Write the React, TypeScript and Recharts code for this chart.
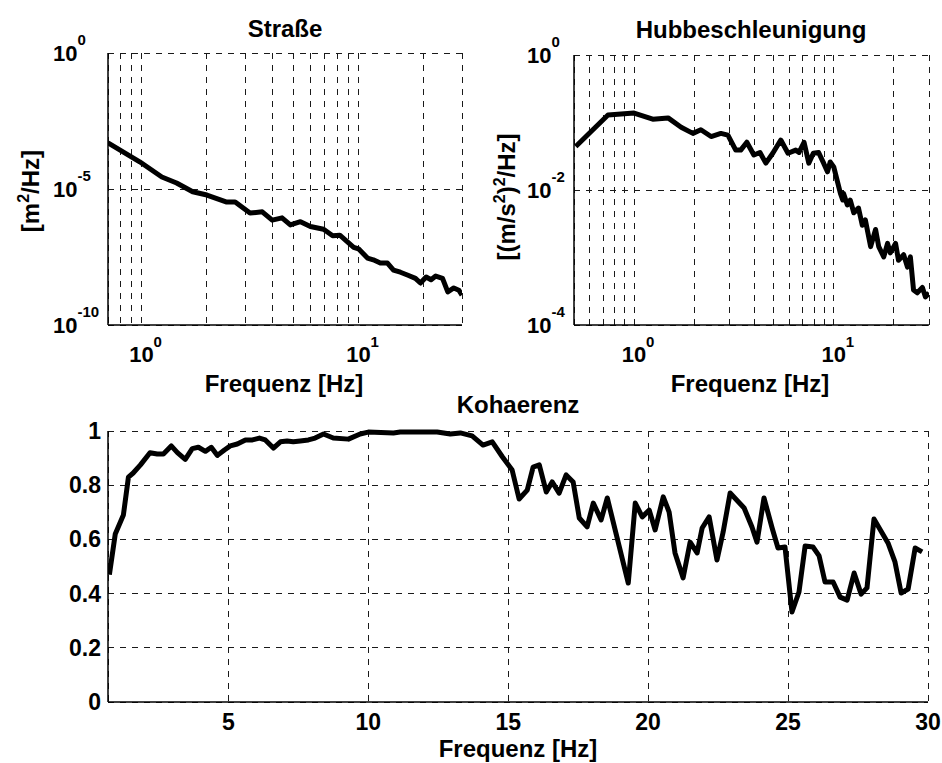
import React from 'react'
import { LineChart, Line, XAxis, YAxis, CartesianGrid } from 'recharts'

// Straße – road PSD [m^2/Hz]
const roadFreq = [0.7, 0.98, 1.24, 1.45, 1.72, 2.0, 2.47, 2.7, 3.16, 3.6, 4.0, 4.44, 4.85, 5.4, 6.0, 6.9, 7.6, 8.2, 9.5, 10, 11, 11.7, 12.6, 13.6, 14.5, 15.6, 16.8, 18.3, 19.3, 20.5, 21.6, 22.7, 24.4, 25.8, 27.5, 29, 30]
const roadPsd = [5.0e-4, 1.0e-4, 2.75e-5, 1.66e-5, 7.9e-6, 6.0e-6, 3.3e-6, 3.3e-6, 1.3e-6, 1.45e-6, 7.2e-7, 8.7e-7, 4.8e-7, 6.3e-7, 4.2e-7, 3.3e-7, 1.9e-7, 2.0e-7, 7.2e-8, 6.3e-8, 2.9e-8, 2.5e-8, 1.9e-8, 1.9e-8, 1.05e-8, 8.7e-9, 6.9e-9, 5.2e-9, 3.5e-9, 5.8e-9, 4.6e-9, 6.3e-9, 5.2e-9, 1.66e-9, 2.3e-9, 1.9e-9, 1.26e-9]

// Hubbeschleunigung – heave acceleration PSD [(m/s^2)^2/Hz]
const heaveFreq = [0.51, 0.74, 1.0, 1.24, 1.48, 1.72, 1.97, 2.16, 2.43, 2.72, 2.95, 3.23, 3.42, 3.67, 3.98, 4.27, 4.57, 4.95, 5.43, 5.9, 6.45, 6.7, 7.1, 7.5, 7.9, 8.4, 8.9, 9.3, 9.6, 10, 10.8, 11.1, 11.2, 11.7, 12.1, 12.6, 13.3, 13.9, 14.4, 15.3, 16.2, 16.8, 17.8, 18.6, 19.2, 20.4, 21.1, 22.4, 23.4, 24.2, 25.1, 26.2, 27.8, 28.8, 30]
const heavePsd = [0.044, 0.129, 0.138, 0.112, 0.117, 0.085, 0.069, 0.078, 0.062, 0.069, 0.065, 0.039, 0.039, 0.051, 0.033, 0.036, 0.025, 0.035, 0.055, 0.035, 0.039, 0.036, 0.051, 0.025, 0.035, 0.036, 0.025, 0.0186, 0.026, 0.022, 0.0089, 0.0071, 0.0089, 0.006, 0.0071, 0.0046, 0.0054, 0.003, 0.0036, 0.00145, 0.0026, 0.00145, 0.00102, 0.00162, 0.00117, 0.00162, 0.00091, 0.0011, 0.00072, 0.00102, 0.00033, 0.0003, 0.00036, 0.00026, 0.0003]

// Kohaerenz
const cohFreq = [0.75, 0.96, 1.25, 1.43, 1.6, 1.86, 2.2, 2.46, 2.68, 2.96, 3.18, 3.46, 3.71, 3.93, 4.18, 4.39, 4.61, 4.86, 5.07, 5.32, 5.61, 5.86, 6.11, 6.32, 6.61, 6.86, 7.1, 7.32, 7.57, 7.86, 8.1, 8.4, 8.75, 9.29, 9.71, 10, 10.9, 11.14, 12.46, 12.93, 13.29, 13.71, 14.1, 14.43, 14.79, 15.14, 15.39, 15.68, 15.89, 16.11, 16.36, 16.57, 16.82, 17.07, 17.32, 17.54, 17.82, 18.04, 18.32, 18.54, 19.29, 19.54, 19.79, 20.04, 20.25, 20.54, 20.75, 20.96, 21.25, 21.5, 21.75, 21.93, 22.18, 22.46, 22.68, 22.93, 23.43, 23.71, 23.89, 24.14, 24.43, 24.64, 24.89, 25.14, 25.39, 25.61, 25.89, 26.11, 26.32, 26.61, 26.86, 27.11, 27.36, 27.61, 27.82, 28.07, 28.32, 28.57, 28.82, 29.04, 29.29, 29.54, 29.79]
const cohValue = [0.47, 0.62, 0.69, 0.83, 0.845, 0.875, 0.92, 0.915, 0.915, 0.945, 0.92, 0.895, 0.935, 0.94, 0.925, 0.94, 0.91, 0.93, 0.945, 0.952, 0.967, 0.967, 0.974, 0.967, 0.937, 0.96, 0.963, 0.96, 0.963, 0.967, 0.974, 0.989, 0.974, 0.97, 0.989, 0.996, 0.993, 0.996, 0.996, 0.989, 0.993, 0.982, 0.948, 0.96, 0.905, 0.856, 0.749, 0.782, 0.867, 0.875, 0.775, 0.812, 0.771, 0.838, 0.812, 0.679, 0.646, 0.734, 0.672, 0.753, 0.439, 0.734, 0.683, 0.708, 0.635, 0.757, 0.701, 0.55, 0.458, 0.59, 0.55, 0.642, 0.683, 0.524, 0.627, 0.771, 0.716, 0.646, 0.59, 0.753, 0.642, 0.568, 0.572, 0.332, 0.406, 0.576, 0.572, 0.539, 0.443, 0.443, 0.387, 0.376, 0.476, 0.398, 0.421, 0.675, 0.631, 0.587, 0.517, 0.402, 0.417, 0.568, 0.554]

// grid / tick positions
const roadGridX = [0.8, 0.9, 1, 2, 3, 4, 5, 6, 7, 8, 9, 10, 20]
const heaveGridX = [0.6, 0.7, 0.8, 0.9, 1, 2, 3, 4, 5, 6, 7, 8, 9, 10, 20]
const logLabels = [1, 10]
const roadTicksY = [1e-10, 1e-5, 1]
const heaveTicksY = [1e-4, 1e-2, 1]
const cohTicksX = [5, 10, 15, 20, 25, 30]
const cohTicksY = [0, 0.2, 0.4, 0.6, 0.8, 1]

const roadData = roadFreq.map((f, i) => ({ f, v: roadPsd[i] }))
const heaveData = heaveFreq.map((f, i) => ({ f, v: heavePsd[i] }))
const cohData = cohFreq.map((f, i) => ({ f, v: cohValue[i] }))

const FONT = '"Liberation Sans", Arial, Helvetica, sans-serif'
const txt = { fontFamily: FONT, fontWeight: 700, fill: '#000' }
const GRID = '#1a1a1a'
const DASH = '6 6'

const powXTick = (baseY: number) => (p: any) => {
  const v = p.payload.value
  if (!logLabels.includes(v)) return <g />
  const e = Math.round(Math.log10(v))
  return (
    <g>
      <text x={p.x} y={baseY} textAnchor="middle" fontSize={22} {...txt}>10</text>
      <text x={p.x + 12} y={baseY - 15} fontSize={15} {...txt}>{e}</text>
    </g>
  )
}

const powYTick = (left: number) => (p: any) => {
  const e = Math.round(Math.log10(p.payload.value))
  return (
    <g>
      <text x={left} y={p.y + 8} fontSize={22} {...txt}>10</text>
      <text x={left + 24.5} y={p.y - 8} fontSize={15} {...txt}>{e}</text>
    </g>
  )
}

const linX = (baseY: number) => (p: any) => (
  <text x={p.x} y={baseY} textAnchor="middle" fontSize={23} {...txt}>{p.payload.value}</text>
)
const linY = (right: number) => (p: any) => (
  <text x={right} y={p.y + 8} textAnchor="end" fontSize={23} {...txt}>{p.payload.value}</text>
)

function LogPanel({ data, gridX, ticksY, domX, domY, w, top, right, yW, yLeft }: any) {
  return (
    <LineChart width={w} height={400} data={data} margin={{ top, right, bottom: 0, left: 0 }}>
      <CartesianGrid stroke={GRID} strokeDasharray={DASH} shapeRendering="crispEdges" />
      <XAxis dataKey="f" type="number" scale="log" domain={domX} allowDataOverflow ticks={gridX} interval={0}
        height={75} tickLine={false} axisLine={{ stroke: '#000', strokeWidth: 1.5 }} tick={powXTick(362)} />
      <YAxis type="number" scale="log" domain={domY} allowDataOverflow ticks={ticksY} interval={0}
        width={yW} tickLine={false} axisLine={{ stroke: '#000', strokeWidth: 1.5 }} tick={powYTick(yLeft)} />
      <XAxis xAxisId="top" orientation="top" dataKey="f" type="number" scale="log" domain={domX} allowDataOverflow
        height={0} tick={false} tickLine={false} axisLine={{ stroke: '#000', strokeWidth: 1.5 }} />
      <YAxis yAxisId="right" orientation="right" type="number" scale="log" domain={domY} allowDataOverflow
        width={0} tick={false} tickLine={false} axisLine={{ stroke: '#000', strokeWidth: 1.5 }} />
      <Line dataKey="v" stroke="#000" strokeWidth={5} dot={false} strokeLinejoin="round" isAnimationActive={false} />
    </LineChart>
  )
}

export default function App() {
  return (
    <div style={{ position: 'absolute', left: 0, top: 0, width: 942, height: 763, background: '#fff' }}>
      <div style={{ position: 'absolute', left: 0, top: 0 }}>
        <LogPanel data={roadData} gridX={roadGridX} ticksY={roadTicksY} domX={[0.7, 30]} domY={[1e-10, 1]}
          w={470} top={53} right={8} yW={108} yLeft={53} />
      </div>
      <div style={{ position: 'absolute', left: 470, top: 0 }}>
        <LogPanel data={heaveData} gridX={heaveGridX} ticksY={heaveTicksY} domX={[0.5, 30]} domY={[1e-4, 1]}
          w={472} top={55} right={13} yW={104} yLeft={57} />
      </div>
      <div style={{ position: 'absolute', left: 0, top: 400 }}>
        <LineChart width={942} height={363} data={cohData} margin={{ top: 31, right: 14, bottom: 0, left: 0 }}>
          <CartesianGrid stroke={GRID} strokeDasharray={DASH} shapeRendering="crispEdges" />
          <XAxis dataKey="f" type="number" domain={[0.7, 30]} allowDataOverflow ticks={cohTicksX} interval={0}
            height={61} tickLine={false} axisLine={{ stroke: '#000', strokeWidth: 1.5 }} tick={linX(330)} />
          <YAxis type="number" domain={[0, 1]} ticks={cohTicksY} interval={0}
            width={108} tickLine={false} axisLine={{ stroke: '#000', strokeWidth: 1.5 }} tick={linY(101)} />
          <XAxis xAxisId="top" orientation="top" dataKey="f" type="number" domain={[0.7, 30]} allowDataOverflow
            height={0} tick={false} tickLine={false} axisLine={{ stroke: '#000', strokeWidth: 1.5 }} />
          <YAxis yAxisId="right" orientation="right" type="number" domain={[0, 1]}
            width={0} tick={false} tickLine={false} axisLine={{ stroke: '#000', strokeWidth: 1.5 }} />
          <Line dataKey="v" stroke="#000" strokeWidth={5} dot={false} strokeLinejoin="round" isAnimationActive={false} />
        </LineChart>
      </div>
      <svg width={942} height={763} style={{ position: 'absolute', left: 0, top: 0, pointerEvents: 'none' }}>
        <text x={285} y={37} textAnchor="middle" fontSize={24} {...txt}>Straße</text>
        <text x={751} y={38} textAnchor="middle" fontSize={24} {...txt}>Hubbeschleunigung</text>
        <text x={518} y={413} textAnchor="middle" fontSize={24} {...txt}>Kohaerenz</text>
        <text x={284} y={392} textAnchor="middle" fontSize={24} {...txt}>Frequenz [Hz]</text>
        <text x={750} y={392} textAnchor="middle" fontSize={24} {...txt}>Frequenz [Hz]</text>
        <text x={518} y={757} textAnchor="middle" fontSize={24} {...txt}>Frequenz [Hz]</text>
        <text transform="translate(39,191) rotate(-90)" textAnchor="middle" fontSize={24} {...txt}>
          <tspan>[m</tspan><tspan dy={-10} fontSize={16}>2</tspan><tspan dy={10}>/Hz]</tspan>
        </text>
        <text transform="translate(515,197) rotate(-90)" textAnchor="middle" fontSize={24} {...txt}>
          <tspan>[(m/s</tspan><tspan dy={-10} fontSize={16}>2</tspan><tspan dy={10}>)</tspan>
          <tspan dy={-10} fontSize={16}>2</tspan><tspan dy={10}>/Hz]</tspan>
        </text>
      </svg>
    </div>
  )
}
